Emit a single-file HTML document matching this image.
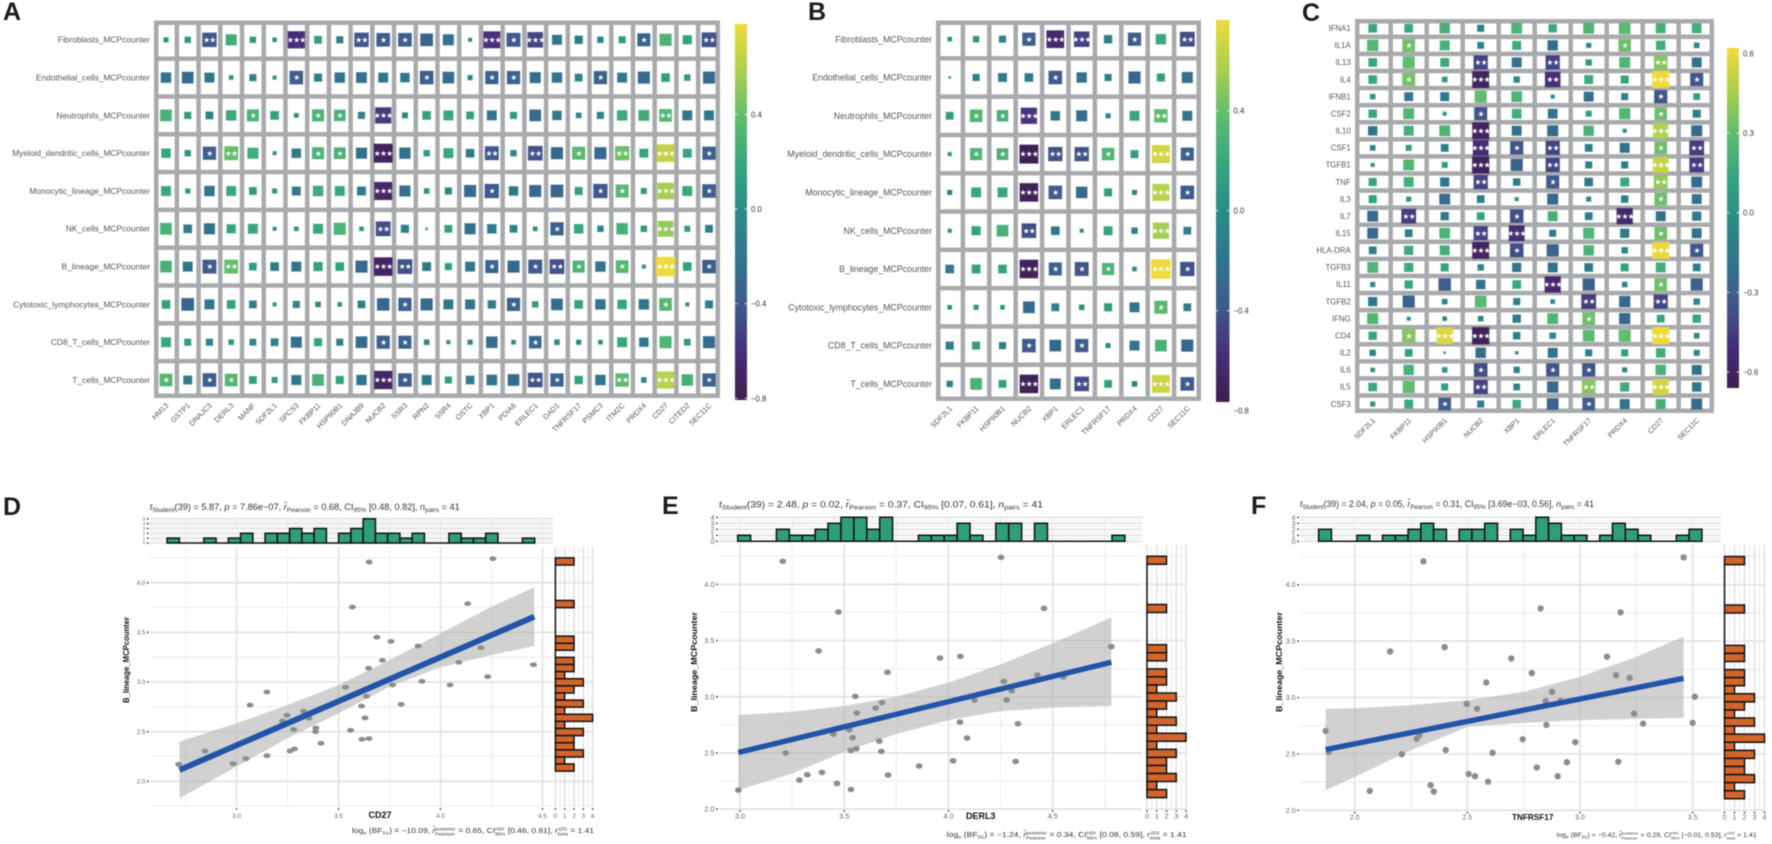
<!DOCTYPE html>
<html lang="en">
<head>
<meta charset="utf-8">
<title>Correlation heatmaps and scatter plots</title>
<style>
html,body{margin:0;padding:0;background:#fff;}
#figure{display:block;width:1772px;height:844px;font-family:"Liberation Sans",sans-serif;filter:blur(0.4px);}
</style>
</head>
<body>
<svg id="figure" xmlns="http://www.w3.org/2000/svg" width="1772" height="844" viewBox="0 0 1772 844">
<defs>
<linearGradient id="viridis-soft" x1="0" y1="1" x2="0" y2="0">
<stop offset="0" stop-color="#3e1f4f"/><stop offset="0.12" stop-color="#472d78"/><stop offset="0.25" stop-color="#3f5a8d"/>
<stop offset="0.37" stop-color="#31748d"/><stop offset="0.5" stop-color="#2a8c85"/><stop offset="0.62" stop-color="#34a57f"/>
<stop offset="0.75" stop-color="#60bc6f"/><stop offset="0.87" stop-color="#a8d04f"/><stop offset="1" stop-color="#eeda3c"/>
</linearGradient>
</defs>
</svg>
<script>
/* ---------- heatmap data ---------- */
const immuneRows = ["Fibroblasts_MCPcounter","Endothelial_cells_MCPcounter","Neutrophils_MCPcounter","Myeloid_dendritic_cells_MCPcounter","Monocytic_lineage_MCPcounter","NK_cells_MCPcounter","B_lineage_MCPcounter","Cytotoxic_lymphocytes_MCPcounter","CD8_T_cells_MCPcounter","T_cells_MCPcounter"];
const aCols = ["HM13","GSTP1","DNAJC3","DERL3","MANF","SDF2L1","SPCS3","FKBP11","HSP90B1","DNAJB9","NUCB2","SSR3","RPN2","SSR4","OSTC","XBP1","PDIA6","ERLEC1","DAD1","TNFRSF17","PSMC3","ITM2C","PRDX4","CD27","CITED2","SEC11C"];
const aValues = [
[.05,.08,-.43,.25,.08,.04,-.62,.12,-.1,-.43,-.38,-.38,-.33,-.25,-.03,-.6,-.4,-.5,-.2,-.14,-.08,.1,-.35,.3,.17,-.45],
[-.22,-.28,-.2,.04,-.1,.03,-.38,-.13,-.22,-.24,-.2,-.18,-.38,-.28,-.05,-.36,-.36,-.25,-.22,-.12,-.36,-.2,-.3,.15,.08,-.3],
[.28,.1,-.12,.22,.3,.15,-.04,.3,.27,-.1,-.55,-.07,.15,.2,.12,-.2,.1,-.28,-.18,-.06,-.1,.22,.24,.33,-.2,-.2],
[.18,.08,-.36,.4,.25,.03,-.18,.3,.28,-.25,-.75,-.26,.08,.2,-.15,-.4,-.08,-.44,-.3,.35,-.3,.42,.16,.65,.16,-.36],
[.2,.05,-.22,.2,.12,.05,-.16,.22,.2,-.16,-.68,-.25,.06,-.1,-.3,-.42,-.18,-.3,-.33,.13,-.42,.35,.07,.57,.2,-.38],
[.28,-.15,-.25,.17,.2,.03,.04,.2,.3,.04,-.45,-.13,.01,.12,-.25,-.18,-.12,-.04,-.36,.18,-.08,.27,.08,.52,.07,-.12],
[.28,-.2,-.4,.4,.12,-.15,-.2,.17,.15,-.3,-.72,-.45,-.16,.1,-.2,-.35,-.3,-.4,-.45,.3,-.22,.33,.03,.78,.15,-.38],
[.15,-.33,-.2,.15,-.12,.03,-.1,-.06,.04,-.12,-.32,-.36,-.3,-.2,-.2,-.14,-.36,.08,-.28,.15,-.22,.18,-.22,.33,-.03,-.13],
[.2,.1,-.1,.06,-.09,-.12,-.25,.13,-.1,-.28,-.36,-.35,-.06,-.03,-.05,-.27,-.04,-.32,-.06,-.05,-.04,.2,-.18,.3,.09,-.3],
[.33,-.16,-.38,.33,.12,.07,-.2,.28,.13,-.22,-.7,-.38,-.2,.1,-.15,-.23,-.28,-.44,-.36,.14,-.22,.37,-.06,.62,.27,-.36]
];
const aStars = [
[0,0,2,0,0,0,3,0,0,2,1,1,0,0,0,3,1,3,0,0,0,0,1,0,0,2],
[0,0,0,0,0,0,1,0,0,0,0,0,1,0,0,1,1,0,0,0,1,0,0,0,0,0],
[0,0,0,0,1,0,0,1,1,0,3,0,0,0,0,0,0,0,0,0,0,0,0,2,0,0],
[0,0,1,2,0,0,0,1,1,0,3,0,0,0,0,2,0,2,0,1,0,2,0,3,0,1],
[0,0,0,0,0,0,0,0,0,0,3,0,0,0,0,1,0,0,0,0,1,1,0,3,0,1],
[0,0,0,0,0,0,0,0,0,0,2,0,0,0,0,0,0,0,1,0,0,0,0,3,0,0],
[0,0,1,2,0,0,0,0,0,0,3,2,0,0,0,1,0,1,2,1,0,1,0,3,0,1],
[0,0,0,0,0,0,0,0,0,0,0,1,0,0,0,0,1,0,0,0,0,0,0,1,0,0],
[0,0,0,0,0,0,0,0,0,0,1,1,0,0,0,0,0,1,0,0,0,0,0,0,0,0],
[1,0,1,1,0,0,0,0,0,0,3,1,0,0,0,0,0,2,1,0,0,2,0,3,0,1]
];
const bCols = ["SDF2L1","FKBP11","HSP90B1","NUCB2","XBP1","ERLEC1","TNFRSF17","PRDX4","CD27","SEC11C"];
const bValues = [
[.04,.08,-.1,-.36,-.65,-.5,-.14,-.36,.22,-.45],
[.01,-.1,-.16,-.15,-.38,-.22,-.1,-.3,.13,-.25],
[.12,.33,.27,-.55,-.18,-.25,-.05,.2,.37,-.2],
[.03,.3,.28,-.75,-.42,-.42,.32,.13,.68,-.35],
[-.05,.2,.2,-.72,-.38,-.27,.13,-.05,.6,-.38],
[.03,.17,.28,-.44,-.15,-.03,.16,-.08,.55,-.12],
[-.15,.16,.15,-.72,-.35,-.4,.3,-.04,.8,-.42],
[.04,.05,.04,-.28,-.12,.06,.13,-.2,.35,-.12],
[-.13,.13,-.1,-.38,-.28,-.36,-.05,-.2,.28,-.3],
[-.08,.28,.12,-.72,-.24,-.44,.12,-.06,.66,-.38]
];
const bStars = [
[0,0,0,1,3,3,0,1,0,2],
[0,0,0,0,1,0,0,0,0,0],
[0,1,1,3,0,0,0,0,2,0],
[0,1,1,3,2,2,1,0,3,1],
[0,0,0,3,1,0,0,0,3,1],
[0,0,0,2,0,0,0,0,3,0],
[0,0,0,3,1,1,1,0,3,1],
[0,0,0,0,0,0,0,0,1,0],
[0,0,0,1,0,1,0,0,0,0],
[0,0,0,3,0,2,0,0,3,1]
];
const cRows = ["IFNA1","IL1A","IL13","IL4","IFNB1","CSF2","IL10","CSF1","TGFB1","TNF","IL3","IL7","IL15","HLA-DRA","TGFB3","IL11","TGFB2","IFNG","CD4","IL2","IL6","IL5","CSF3"];
const cCols = ["SDF2L1","FKBP11","HSP90B1","NUCB2","XBP1","ERLEC1","TNFRSF17","PRDX4","CD27","SEC11C"];
const cValues = [
[.15,.15,.22,-.1,.24,.14,.24,.28,.2,.19],
[.26,.33,.2,-.09,.16,-.22,-.05,.32,.18,-.06],
[.15,.3,.16,-.42,-.2,-.42,.08,.24,.38,-.2],
[.15,.35,.06,-.6,-.08,-.5,.16,.13,.62,-.35],
[.06,-.16,-.16,.3,.24,-.03,-.2,-.1,-.36,.09],
[.14,.24,.03,-.35,.19,-.19,.07,.26,.32,-.13],
[-.18,.2,.24,-.6,-.2,-.25,.22,-.03,.48,-.25],
[-.06,.07,-.12,-.52,-.36,-.42,-.12,-.2,.33,-.45],
[.03,.24,.07,-.62,-.3,-.42,-.1,-.1,.52,-.45],
[.13,.2,-.17,-.42,-.11,-.35,-.15,.16,.4,-.24],
[.13,.05,-.24,-.12,.03,-.25,-.05,-.11,.33,-.2],
[-.24,-.45,-.14,.12,-.38,.2,-.12,-.55,-.2,-.17],
[-.24,-.12,.23,-.42,-.52,-.1,.25,-.17,.33,-.2],
[-.12,.17,.2,-.6,-.38,-.3,.22,-.08,.6,-.35],
[.24,.17,.13,-.08,-.17,-.2,-.15,.13,.2,-.12],
[-.05,.14,-.32,-.18,.15,-.55,-.3,-.06,.32,-.3],
[-.17,-.3,-.06,.28,-.1,-.04,-.45,-.26,-.42,-.08],
[.25,.03,-.04,-.06,-.14,.24,.33,-.26,.12,.14],
[.14,.38,.58,-.62,-.11,-.08,.28,.3,.62,-.06],
[-.08,.12,.01,-.22,-.02,-.2,-.1,.1,.18,-.07],
[.04,.22,.06,-.38,-.08,-.36,-.36,-.05,.22,-.2],
[.15,.3,.1,-.42,-.09,-.26,.38,.17,.55,-.18],
[.05,.16,-.33,-.1,.14,-.28,-.33,-.2,.2,-.25]
];
const cStars = [
[0,0,0,0,0,0,0,0,0,0],[0,1,0,0,0,0,0,1,0,0],[0,0,0,2,0,2,0,0,2,0],[0,1,0,3,0,2,0,0,3,1],
[0,0,0,0,0,0,0,0,1,0],[0,0,0,1,0,0,0,0,1,0],[0,0,0,3,0,0,0,0,3,0],[0,0,0,3,1,2,0,0,1,2],
[0,0,0,3,0,2,0,0,3,2],[0,0,0,2,0,1,0,0,2,0],[0,0,0,0,0,0,0,0,1,0],[0,2,0,0,1,0,0,3,0,0],
[0,0,0,2,3,0,0,0,1,0],[0,0,0,3,1,0,0,0,3,1],[0,0,0,0,0,0,0,0,0,0],[0,0,0,0,0,3,0,0,1,0],
[0,0,0,0,0,0,2,0,2,0],[0,0,0,0,0,0,1,0,0,0],[0,1,3,3,0,0,0,0,3,0],[0,0,0,0,0,0,0,0,0,0],
[0,0,0,1,0,1,1,0,0,0],[0,0,0,2,0,0,2,0,3,0],[0,0,1,0,0,0,1,0,0,0]
];
const aTicks = [0.4,0.0,-0.4,-0.8];
const bTicks = [0.4,0.0,-0.4,-0.8];
const cTicks = [0.6,0.3,0.0,-0.3,-0.6];

/* ---------- scatter data ---------- */
const dX = [2.716,2.845,2.983,3.046,3.066,3.149,3.149,3.225,3.247,3.262,3.28,3.284,3.329,3.355,3.389,3.387,3.414,3.534,3.559,3.568,3.613,3.615,3.63,3.637,3.647,3.649,3.65,3.688,3.715,3.757,3.765,3.807,3.89,3.909,4.047,4.09,4.133,4.198,4.231,4.257,4.456];
const dY = [2.171,2.305,2.178,2.228,2.768,2.899,2.258,2.607,2.664,2.305,2.523,2.326,2.705,2.634,2.537,2.5,2.383,2.946,2.513,3.755,2.758,2.423,2.638,2.856,3.138,2.43,4.208,3.45,3.218,3.409,2.97,2.775,3.362,3.007,2.97,3.198,3.789,3.346,3.054,4.242,3.174];
const dLineX = [2.72,4.46];
const dLineY = [2.114,3.658];
const dBandX = [2.72,3.0,3.25,3.5,3.75,4.0,4.25,4.46];
const dBandUpper = [2.399,2.584,2.768,2.97,3.221,3.49,3.758,3.953];
const dBandLower = [1.829,2.148,2.433,2.685,2.953,3.148,3.272,3.362];
const dTopCounts = [1,0,0,1,0,1,2,0,2,2,3,2,3,0,2,3,5,2,2,1,2,0,0,2,1,1,2,0,0,1];
const dXTicks = [3.0,3.5,4.0,4.5];
const dTopTicks = [0,1,2,3,4,5];

const eX = [3.205,3.472,3.377,3.707,3.959,4.057,4.252,4.458,3.553,3.681,3.651,3.56,4.265,4.303,4.279,4.426,4.125,4.055,4.333,4.089,3.448,3.524,3.54,3.668,3.678,3.558,3.531,3.219,3.859,4.022,4.322,3.285,3.323,3.393,3.71,3.465,3.532,2.992,4.781,3.576,4.551];
const eY = [4.205,3.754,3.407,3.217,3.344,3.359,4.24,3.786,3.003,2.947,2.899,2.855,3.136,3.053,2.97,3.193,2.97,2.774,2.76,2.632,2.668,2.706,2.635,2.605,2.513,2.537,2.522,2.499,2.383,2.43,2.424,2.258,2.306,2.326,2.303,2.228,2.175,2.169,3.445,2.768,3.174];
const eLineX = [2.992,4.781];
const eLineY = [2.504,3.306];
const eBandX = [2.992,3.25,3.5,3.75,4.0,4.25,4.5,4.781];
const eBandUpper = [2.837,2.866,2.917,3.0,3.125,3.288,3.475,3.706];
const eBandLower = [2.169,2.317,2.51,2.668,2.792,2.872,2.902,2.917];
const eTopCounts = [1,0,0,2,1,1,2,3,4,4,2,4,0,0,1,1,1,3,1,0,3,3,0,3,0,0,0,0,0,1];
const eXTicks = [3.0,3.5,4.0,4.5];
const eTopTicks = [0,1,2,3,4];

const fX = [2.305,2.825,2.157,2.399,2.695,2.786,2.584,2.876,2.497,2.543,2.848,2.914,1.871,2.287,2.275,2.851,2.746,2.979,2.209,2.404,2.612,1.885,2.808,2.942,2.506,2.534,2.901,2.592,2.337,2.351,2.067,3.46,3.18,3.12,3.16,3.22,3.51,3.24,3.5,3.28,3.17];
const fY = [4.207,3.79,3.408,3.447,3.346,3.216,3.133,3.05,2.944,2.9,2.967,2.97,2.704,2.666,2.633,2.757,2.63,2.604,2.497,2.535,2.509,2.518,2.379,2.426,2.322,2.302,2.302,2.254,2.222,2.166,2.172,4.242,3.755,3.362,3.198,3.174,3.007,2.856,2.775,2.768,2.43];
const fLineX = [1.871,3.46];
const fLineY = [2.538,3.17];
const fBandX = [1.871,2.0,2.25,2.5,2.75,3.0,3.25,3.46];
const fBandUpper = [2.899,2.905,2.932,2.976,3.05,3.183,3.36,3.54];
const fBandLower = [2.178,2.296,2.533,2.74,2.775,2.799,2.81,2.82];
const fTopCounts = [2,0,0,1,0,1,1,2,3,2,0,2,2,3,0,2,1,4,3,1,1,0,1,3,2,1,0,0,1,2];
const fXTicks = [2.0,2.5,3.0,3.5];
const fTopTicks = [0,1,2,3,4];

const rightCounts = [2,0,0,0,0,0,2,0,0,0,0,2,2,0,2,2,1,3,2,1,3,1,4,1,3,2,2,3,1,2];
const rightTicks = [0,1,2,3,4];
const yTicks = [2.0,2.5,3.0,3.5,4.0];

/* ---------- helpers ---------- */
const NS = "http://www.w3.org/2000/svg";
const root = document.getElementById("figure");
function make(tag, attrs, parent){
  const n = document.createElementNS(NS, tag);
  for (const k in attrs) n.setAttribute(k, attrs[k]);
  (parent || root).appendChild(n);
  return n;
}
const colorStops = [[0,"#3e1f4f"],[.12,"#472d78"],[.25,"#3f5a8d"],[.37,"#31748d"],[.5,"#2a8c85"],[.62,"#34a57f"],[.75,"#60bc6f"],[.87,"#a8d04f"],[1,"#eeda3c"]];
function rgb(h){return [parseInt(h.slice(1,3),16),parseInt(h.slice(3,5),16),parseInt(h.slice(5,7),16)];}
function colorAt(t){
  t = Math.max(0, Math.min(1, t));
  for (let i = 1; i < colorStops.length; i++){
    if (t <= colorStops[i][0]){
      const a = colorStops[i-1], b = colorStops[i], f = (t-a[0])/(b[0]-a[0]);
      const ca = rgb(a[1]), cb = rgb(b[1]);
      return "rgb("+ca.map((v,j)=>Math.round(v+(cb[j]-v)*f)).join(",")+")";
    }
  }
  return colorStops[colorStops.length-1][1];
}

/* ---------- heatmap renderer ---------- */
function drawHeatmap(cfg, rows, cols, values, stars, ticks){
  const g = make("g", {});
  
  
  const bg = make("rect", {x:cfg.left,y:cfg.top,width:cfg.right-cfg.left,height:cfg.bottom-cfg.top,fill:"#a9aaad"}, g);
  
  
  const gap = 4.5;
  const barY = v => cfg.barZeroY - v*cfg.barPerUnit;
  const vMax = (cfg.barZeroY - cfg.barTop)/cfg.barPerUnit;
  const vMin = (cfg.barZeroY - cfg.barBottom)/cfg.barPerUnit;
  const cx = i => cfg.x0 + cfg.dx*i;
  const cy = i => cfg.y0 + cfg.dy*i;
  rows.forEach((rn, r) => {
    cols.forEach((cn, c) => {
      const x1 = Math.max(cfg.left+gap, cx(c)-(cfg.dx-gap)/2), x2 = Math.min(cfg.right-gap, cx(c)+(cfg.dx-gap)/2);
      const y1 = Math.max(cfg.top+gap, cy(r)-(cfg.dy-gap)/2), y2 = Math.min(cfg.bottom-gap, cy(r)+(cfg.dy-gap)/2);
      const cell = make("rect", {x:x1,y:y1,width:x2-x1,height:y2-y1,fill:"#fff"}, g);
      
      
    });
  });
  rows.forEach((rn, r) => {
    cols.forEach((cn, c) => {
      const v = values[r][c];
      const side = 21.5*Math.sqrt(Math.abs(v));
      const col = colorAt((v-vMin)/(vMax-vMin));
      const sq = make("rect", {x:cx(c)-side/2,y:cy(r)-side/2,width:side,height:side,fill:col,stroke:col,"stroke-opacity":.3,"stroke-width":1}, g);
      
      
      const n = stars[r][c];
      if (n > 0){
        const st = make("text", {x:cx(c),y:cy(r)+2.6,"text-anchor":"middle","font-size":7.6,"letter-spacing":-.6,fill:"#fff","font-family":"'DejaVu Sans',sans-serif"}, g);
        st.textContent = "★".repeat(n);
        
        
      }
    });
  });
  rows.forEach((rn, r) => {
    const t = make("text", {x:cfg.rowLabelX,y:cy(r)+cfg.rowFont*.35,"text-anchor":"end","font-size":cfg.rowFont,fill:"#555"}, g);
    t.textContent = rn;
    
    
  });
  cols.forEach((cn, c) => {
    const xx = cx(c)+3, yy = cfg.bottom+8;
    const t = make("text", {x:xx,y:yy,"text-anchor":"end","font-size":cfg.colFont,fill:"#555",transform:"rotate(-45 "+xx+" "+yy+")"}, g);
    t.textContent = cn;
    
    
  });
  const bar = make("rect", {x:cfg.barX,y:cfg.barTop,width:cfg.barW,height:cfg.barBottom-cfg.barTop,fill:"url(#viridis-soft)"}, g);
  
  
  ticks.forEach(v => {
    const y = barY(v);
    const m1 = make("line", {x1:cfg.barX,x2:cfg.barX+2.4,y1:y,y2:y,stroke:"#fff","stroke-width":.8}, g);
    
    
    const m2 = make("line", {x1:cfg.barX+cfg.barW-2.4,x2:cfg.barX+cfg.barW,y1:y,y2:y,stroke:"#fff","stroke-width":.8}, g);
    
    
    const t = make("text", {x:cfg.barX+cfg.barW+4,y:y+3,"font-size":7.8,fill:"#333"}, g);
    t.textContent = (v<0?"\u2212":"")+Math.abs(v).toFixed(1);
    
    
  });
}

/* ---------- scatter renderer ---------- */
function drawScatter(cfg, xs, ys, lineX, lineY, bandX, bandUpper, bandLower, topCounts, xTicks, topTicks){
  const g = make("g", {});
  
  
  const X = v => cfg.x3 + (v-cfg.xRef)*cfg.xPer;
  const Y = v => cfg.y4 - (v-4)*cfg.yPer;
  const C = n => cfg.topZero - n*cfg.countPer;
  const R = n => cfg.right0 + n*cfg.rightPer;
  const gridLine = (x1,y1,x2,y2,major,name) => {
    const l = make("line", {x1,y1,x2,y2,stroke:major?"#e1e1e1":"#ececec","stroke-width":major?1.6:1.1}, g);
    
    
  };
  for (let v = cfg.gridXStart, i = 0; v <= cfg.gridXEnd+1e-6; v += .25, i++){
    const maj = Math.abs(v*2-Math.round(v*2)) < 1e-6;
    gridLine(X(v),cfg.top,X(v),cfg.bottom,maj,"x-gridline");
    gridLine(X(v),cfg.topBarTop,X(v),cfg.topZero+1,false,"top-histogram-gridline");
  }
  for (let v = cfg.gridYStart; v <= 4.26; v += .25){
    const maj = Math.abs(v*2-Math.round(v*2)) < 1e-6;
    gridLine(cfg.left,Y(v),cfg.right,Y(v),maj,"y-gridline");
    gridLine(R(0)-2,Y(v),R(4)+1,Y(v),maj,"right-histogram-gridline");
  }
  for (let n = 0; n <= topTicks[topTicks.length-1]+.01; n += .5){
    gridLine(cfg.left,C(n),cfg.right,C(n),Number.isInteger(n),"top-histogram-gridline");
  }
  for (let n = 0; n <= 4.01; n += .5){
    gridLine(R(n),cfg.top,R(n),cfg.bottom,Number.isInteger(n),"right-histogram-gridline");
  }
  /* top histogram */
  topCounts.forEach((n,i) => {
    const x1 = X(cfg.binStart+i*cfg.binWidth), x2 = X(cfg.binStart+(i+1)*cfg.binWidth);
    const b = make("path", {d:"M"+x1+" "+C(0)+"V"+C(n)+"H"+x2+"V"+C(0)+"Z",fill:"#2f9f78",stroke:"#111","stroke-width":1.5,"stroke-linejoin":"miter"}, g);
    
    
  });
  /* right histogram */
  rightCounts.forEach((n,i) => {
    const y1 = Y(4.25-i*.0716), y2 = Y(4.25-(i+1)*.0716);
    const b = make("path", {d:"M"+R(0)+" "+y1+"H"+R(n)+"V"+y2+"H"+R(0)+"Z",fill:"#d2652a",stroke:"#111","stroke-width":1.5}, g);
    
    
  });
  /* confidence band */
  const up = bandX.map((v,i)=>X(v)+","+Y(bandUpper[i]));
  const lo = bandX.map((v,i)=>X(v)+","+Y(bandLower[i])).reverse();
  const band = make("polygon", {points:up.concat(lo).join(" "),fill:"#b4b4b7","fill-opacity":.62}, g);
  
  
  /* points */
  xs.forEach((v,i) => {
    const p = make("ellipse", {cx:X(v),cy:Y(ys[i]),rx:cfg.rx,ry:cfg.ry,fill:"#8d8d8d"}, g);
    
    
  });
  /* regression line */
  const ln = make("line", {x1:X(lineX[0]),y1:Y(lineY[0]),x2:X(lineX[1]),y2:Y(lineY[1]),stroke:"#2153a6","stroke-width":cfg.lineW}, g);
  
  
  /* ticks */
  const tickDot = (x,y) => {
    const d = make("circle", {cx:x,cy:y,r:.8,fill:"#111"}, g);
    
    
  };
  const label = (x,y,s,anchor,name) => {
    const t = make("text", {x,y,"text-anchor":anchor,"font-size":cfg.tickFont,fill:"#666"}, g);
    t.textContent = s;
    
    
  };
  yTicks.forEach(v => {
    tickDot(cfg.left-2,Y(v));
    label(cfg.left-4.5,Y(v)+cfg.tickFont*.35,v.toFixed(1),"end","y-tick-label");
  });
  xTicks.forEach(v => {
    tickDot(X(v),cfg.bottom+2);
    label(X(v),cfg.xTickY,v.toFixed(1),"middle","x-tick-label");
  });
  topTicks.forEach(n => {
    tickDot(cfg.left-2,C(n));
    const t = make("text", {x:cfg.left-4.5,y:C(n)+cfg.topTickFont*.35,"text-anchor":"end","font-size":cfg.topTickFont,fill:"#666"}, g);
    t.textContent = n;
    
    
  });
  rightTicks.forEach(n => {
    tickDot(R(n),cfg.bottom+2);
    label(R(n),cfg.xTickY,String(n),"middle","right-histogram-tick-label");
  });
  /* axis titles */
  const xt = make("text", {x:cfg.xTitleX,y:cfg.xTitleY,"text-anchor":"middle","font-size":cfg.xTitleFont,"font-weight":"bold",fill:"#111"}, g);
  xt.textContent = cfg.xTitle;
  
  
  const yt = make("text", {x:cfg.yTitleX,y:cfg.yTitleY,"text-anchor":"middle","font-size":cfg.yTitleFont,"font-weight":"bold",fill:"#111",textLength:cfg.yTitleLen,lengthAdjust:"spacingAndGlyphs",transform:"rotate(-90 "+cfg.yTitleX+" "+cfg.yTitleY+")"}, g);
  yt.textContent = "B_lineage_MCPcounter";
  
  
  /* statistics lines */
  const title = make("text", {x:cfg.left,y:cfg.titleY,"font-size":cfg.titleFont,fill:"#333",textLength:cfg.titleLen,lengthAdjust:"spacingAndGlyphs"}, g);
  title.innerHTML = cfg.title;
  
  
  const sub = make("text", {x:cfg.subX,y:cfg.subY,"font-size":cfg.subFont,fill:"#333",textLength:cfg.subLen,lengthAdjust:"spacingAndGlyphs"}, g);
  sub.innerHTML = cfg.sub;
  
  
}
function statTitle(t, p, r, ci){
  return '<tspan font-style="italic">t</tspan><tspan dy="2" font-size="70%">Student</tspan><tspan dy="-2">(39) = '+t+', </tspan><tspan font-style="italic">p</tspan><tspan> = '+p+', </tspan><tspan font-style="italic">r\u0302</tspan><tspan dy="2" font-size="70%">Pearson</tspan><tspan dy="-2"> = '+r+', CI</tspan><tspan dy="2" font-size="70%">95%</tspan><tspan dy="-2"> '+ci+', </tspan><tspan font-style="italic">n</tspan><tspan dy="2" font-size="70%">pairs</tspan><tspan dy="-2"> = 41</tspan>';
}
function statSub(bf, r, ci){
  return 'log<tspan dy="1.5" font-size="70%">e</tspan><tspan dy="-1.5"> (BF</tspan><tspan dy="1.5" font-size="70%">01</tspan><tspan dy="-1.5">) = \u2212'+bf+', </tspan><tspan font-style="italic">r\u0302</tspan><tspan dy="-2.5" font-size="62%">posterior</tspan><tspan dx="-3.89em" dy="5" font-size="62%">Pearson</tspan><tspan dx="1" dy="-2.5"> = '+r+', CI</tspan><tspan dy="-2.5" font-size="62%">HDI</tspan><tspan dx="-1.72em" dy="5" font-size="62%">95%</tspan><tspan dy="-2.5"> '+ci+', </tspan><tspan font-style="italic">r</tspan><tspan dy="-2.5" font-size="62%">JZS</tspan><tspan dx="-1.78em" dy="5" font-size="62%">beta</tspan><tspan dy="-2.5"> = 1.41</tspan>';
}

/* ---------- build ---------- */
drawHeatmap({key:"a",left:154,right:720,top:20.5,bottom:398,x0:166,dx:21.72,y0:39.8,dy:37.8,rowLabelX:150,rowFont:8.4,colFont:7.4,barX:735,barW:12,barTop:24,barBottom:400,barZeroY:209,barPerUnit:236.75}, immuneRows, aCols, aValues, aStars, aTicks);
drawHeatmap({key:"b",left:936,right:1201,top:20.5,bottom:401,x0:949.7,dx:26.4,y0:39.2,dy:38.3,rowLabelX:932,rowFont:8.8,colFont:7.4,barX:1216,barW:13.5,barTop:20,barBottom:402,barZeroY:210.7,barPerUnit:250}, immuneRows, bCols, bValues, bStars, bTicks);
drawHeatmap({key:"c",left:1355,right:1714,top:19,bottom:413,x0:1372.7,dx:36,y0:28.3,dy:17.08,rowLabelX:1350.7,rowFont:7.8,colFont:7.2,barX:1727,barW:12,barTop:48,barBottom:388,barZeroY:212.7,barPerUnit:265.6}, cRows, cCols, cValues, cStars, cTicks);

drawScatter({key:"d",xRef:3,x3:236.6,xPer:203.9,y4:582.7,yPer:99.3,left:149.8,right:553,top:547,bottom:807,topBarTop:518,topZero:543,countPer:4.85,right0:555.4,rightPer:9.3,
  binStart:2.659,binWidth:.0601,gridXStart:2.75,gridXEnd:4.5,gridYStart:1.75,rx:3.5,ry:2.4,lineW:5.8,tickFont:6.2,topTickFont:4.6,xTickY:818,
  xTitle:"CD27",xTitleX:380,xTitleY:818,xTitleFont:9,yTitleX:129,yTitleY:660,yTitleFont:8.4,yTitleLen:86,
  titleY:510,titleFont:8.8,titleLen:310,title:statTitle("5.87","7.86e\u221207","0.68","[0.48, 0.82]"),
  subX:352,subY:833,subFont:7,subLen:242,sub:statSub("10.09","0.65","[0.46, 0.81]")},
  dX,dY,dLineX,dLineY,dBandX,dBandUpper,dBandLower,dTopCounts,dXTicks,dTopTicks);

drawScatter({key:"e",xRef:3,x3:740,xPer:208.5,y4:584.3,yPer:112.4,left:719,right:1142,top:545,bottom:809,topBarTop:517,topZero:541.3,countPer:6,right0:1147,rightPer:9.75,
  binStart:2.989,binWidth:.0619,gridXStart:3,gridXEnd:4.75,gridYStart:2,rx:3.4,ry:2.8,lineW:5.4,tickFont:7.4,topTickFont:7,xTickY:818.5,
  xTitle:"DERL3",xTitleX:980.7,xTitleY:819,xTitleFont:9,yTitleX:697,yTitleY:662,yTitleFont:8.6,yTitleLen:100,
  titleY:507.5,titleFont:9.4,titleLen:324,title:statTitle("2.48","0.02","0.37","[0.07, 0.61]"),
  subX:946.7,subY:837,subFont:7,subLen:240,sub:statSub("1.24","0.34","[0.08, 0.59]")},
  eX,eY,eLineX,eLineY,eBandX,eBandUpper,eBandLower,eTopCounts,eXTicks,eTopTicks);

drawScatter({key:"f",xRef:2,x3:1354.7,xPer:225.3,y4:584.7,yPer:112.8,left:1300,right:1721,top:545,bottom:810.5,topBarTop:517,topZero:541.3,countPer:6,right0:1724.5,rightPer:10,
  binStart:1.84,binWidth:.0567,gridXStart:2,gridXEnd:3.5,gridYStart:2,rx:3.2,ry:3.2,lineW:5.4,tickFont:7,topTickFont:7,xTickY:819.5,
  xTitle:"TNFRSF17",xTitleX:1532.7,xTitleY:820,xTitleFont:8.2,yTitleX:1282,yTitleY:662,yTitleFont:8.6,yTitleLen:100,
  titleY:507,titleFont:8.8,titleLen:294,title:statTitle("2.04","0.05","0.31","[3.69e\u221203, 0.56]"),
  subX:1556.7,subY:837,subFont:6.4,subLen:200,sub:statSub("0.42","0.29","[\u22120.01, 0.53]")},
  fX,fY,fLineX,fLineY,fBandX,fBandUpper,fBandLower,fTopCounts,fXTicks,fTopTicks);

/* ---------- panel letters ---------- */
const letterText = ["A","B","C","D","E","F"];
const letterSpots = [{x:3,y:20},{x:808,y:20},{x:1302,y:21},{x:3,y:515},{x:662,y:514},{x:1251,y:514}];
letterText.forEach((s,i) => {
  const t = make("text", {x:letterSpots[i].x,y:letterSpots[i].y,"font-size":25,"font-weight":"bold",fill:"#1c1c1c"});
  t.textContent = s;
  
  
});
</script>
</body>
</html>
